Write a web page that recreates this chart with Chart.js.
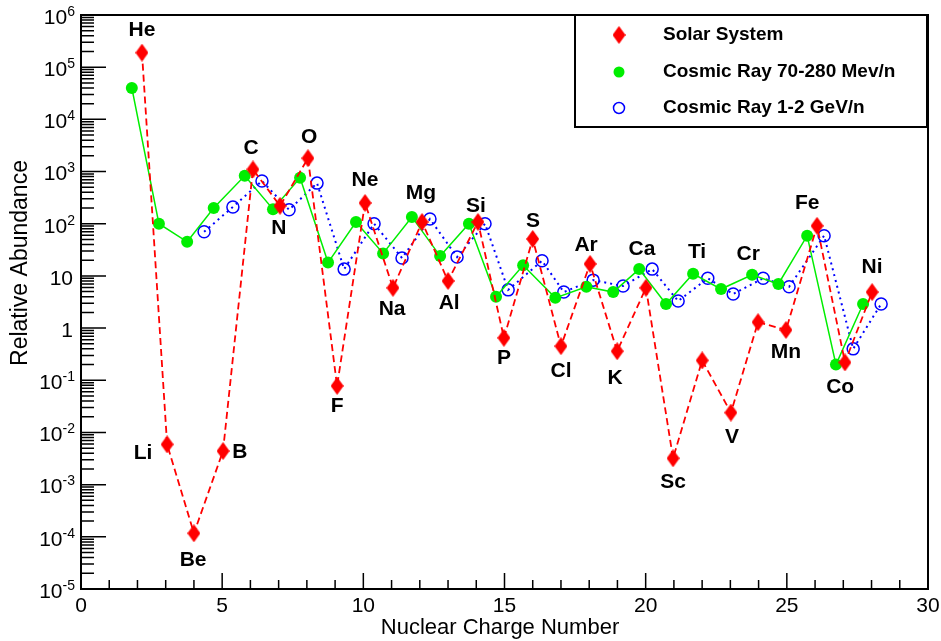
<!DOCTYPE html>
<html>
<head>
<meta charset="utf-8">
<script src="https://cdn.jsdelivr.net/npm/chart.js@4"></script>
<style>
  body { margin: 0; background: #fff; }
  #wrap { width: 941px; height: 641px; }
</style>
</head>
<body>
<div id="wrap"><canvas id="abundance" width="941" height="641"></canvas></div>
<script>
// element symbols, He .. Ni
const elements = ['He','Li','Be','B','C','N','O','F','Ne','Na','Mg','Al','Si','P','S','Cl','Ar','K','Ca','Sc','Ti','V','Cr','Mn','Fe','Co','Ni'];

// Solar System (red diamonds)
const solarX = [2.16,3.05,4.0,5.03,6.09,7.05,8.04,9.07,10.06,11.05,12.08,13.0,14.06,14.98,16.0,17.0,18.03,18.99,20.01,20.97,22.0,23.02,23.98,24.97,26.07,27.06,28.02];
const solarY = [1.9e5,5.9e-3,1.17e-4,4.4e-3,1.1e3,220,1.8e3,0.078,250,5.9,108,8.0,108,0.65,51,0.45,17,0.36,5.9,3.2e-3,0.24,0.024,1.3,0.92,91,0.22,4.9];

// Cosmic Ray 70-280 MeV/n (green dots)
const lowX = [1.8,2.76,3.76,4.7,5.8,6.8,7.76,8.75,9.74,10.7,11.72,12.72,13.74,14.7,15.66,16.8,17.9,18.85,19.77,20.72,21.68,22.67,23.77,24.7,25.72,26.74,27.7];
const lowY = [4.0e4,100,45,200,830,190,760,18,108,27,135,24,100,4.0,16,3.8,6.2,4.9,13.5,2.9,11,5.6,10.5,7.0,59,0.2,2.9];

// Cosmic Ray 1-2 GeV/n (blue open circles), Be .. Ni
const highX = [4.36,5.38,6.41,7.37,8.36,9.32,10.38,11.37,12.36,13.32,14.31,15.13,16.33,17.1,18.14,19.2,20.23,21.15,22.2,23.1,24.16,25.08,26.32,27.35,28.34];
const highY = [70,210,660,185,600,13.5,100,22,123,23,100,5.4,19.5,4.9,8.3,6.4,13.5,3.3,9,4.5,9,6.2,59,0.4,2.9];

// where each element name sits (data coordinates)
const labelX = [2.16,2.2,3.97,5.63,6.02,7.01,8.08,9.07,10.06,11.02,12.04,13.04,13.99,14.98,16.01,17.0,17.89,18.92,19.87,20.97,21.82,23.06,23.63,24.97,25.72,26.89,28.02];
const labelY = [5.2e5,4.0e-3,3.5e-5,4.2e-3,2.8e3,83,4.5e3,0.032,690,2.3,390,3.0,220,0.26,112,0.15,39,0.11,33,1.1e-3,28,8.1e-3,26,0.35,250,0.074,15];

const xTicks = [0,5,10,15,20,25,30];
const yExponents = [-5,-4,-3,-2,-1,0,1,2,3,4,5,6];
const legendNames = ['Solar System','Cosmic Ray 70-280 Mev/n','Cosmic Ray 1-2 GeV/n'];

const FONT = '"Liberation Sans", Arial, sans-serif';

function toPoints(xs, ys) {
    return xs.map((x, i) => ({ x: x, y: ys[i] }));
}

// taller-than-wide diamond like the ROOT marker
function makeDiamond(w, h) {
    const c = document.createElement('canvas');
    c.width = w; c.height = h;
    const g = c.getContext('2d');
    g.fillStyle = '#ff0000';
    g.beginPath();
    g.moveTo(w / 2, 0);
    g.lineTo(w, h / 2);
    g.lineTo(w / 2, h);
    g.lineTo(0, h / 2);
    g.closePath();
    g.fill();
    return c;
}
const diamond = makeDiamond(13, 18);

// frame, inward ticks, tick labels, titles
const axesPlugin = {
    id: 'rootAxes',
    afterDraw(chart) {
        const { ctx, chartArea: a, scales: { x, y } } = chart;
        ctx.save();
        ctx.strokeStyle = '#000';
        ctx.lineWidth = 2;
        ctx.strokeRect(a.left, a.top, a.right - a.left, a.bottom - a.top);

        ctx.lineWidth = 1.5;
        ctx.beginPath();
        for (let v = 0; v <= 30; v++) {
            const px = x.getPixelForValue(v);
            const len = v % 5 === 0 ? 16 : 9;
            ctx.moveTo(px, a.bottom);
            ctx.lineTo(px, a.bottom - len);
        }
        for (let e = -5; e <= 6; e++) {
            for (let m = 1; m <= 9; m++) {
                if (e === 6 && m > 1) break;
                const py = y.getPixelForValue(m * Math.pow(10, e));
                const len = m === 1 ? 25 : 13;
                ctx.moveTo(a.left, py);
                ctx.lineTo(a.left + len, py);
            }
        }
        ctx.stroke();

        ctx.fillStyle = '#000';
        ctx.font = '21px ' + FONT;
        ctx.textAlign = 'center';
        ctx.textBaseline = 'middle';
        xTicks.forEach(v => ctx.fillText(String(v), x.getPixelForValue(v), 606));

        const rightEdge = 75;
        yExponents.forEach(e => {
            const py = y.getPixelForValue(Math.pow(10, e)) + 3;
            ctx.textBaseline = 'middle';
            if (e === 0 || e === 1) {
                ctx.font = '21px ' + FONT;
                ctx.textAlign = 'right';
                ctx.fillText(e === 0 ? '1' : '10', rightEdge - 2, py);
                return;
            }
            const sup = String(e);
            ctx.font = '14px ' + FONT;
            const sw = ctx.measureText(sup).width;
            ctx.textAlign = 'left';
            ctx.fillText(sup, rightEdge - sw, py - 6);
            ctx.font = '21px ' + FONT;
            ctx.textAlign = 'right';
            ctx.fillText('10', rightEdge - sw, py);
        });

        ctx.font = '22px ' + FONT;
        ctx.textAlign = 'center';
        ctx.fillText('Nuclear Charge Number', 500, 628);
        ctx.font = '23px ' + FONT;
        ctx.translate(21, 263);
        ctx.rotate(-Math.PI / 2);
        ctx.fillText('Relative Abundance', 0, 0);
        ctx.restore();
    }
};

// element names next to the solar points
const namesPlugin = {
    id: 'elementNames',
    afterDatasetsDraw(chart) {
        const { ctx, scales: { x, y } } = chart;
        ctx.save();
        ctx.fillStyle = '#000';
        ctx.font = 'bold 21px ' + FONT;
        ctx.textAlign = 'center';
        ctx.textBaseline = 'middle';
        elements.forEach((el, i) => {
            ctx.fillText(el, x.getPixelForValue(labelX[i]), y.getPixelForValue(labelY[i]));
        });
        ctx.restore();
    }
};

// boxed legend in the top right corner
const legendPlugin = {
    id: 'boxLegend',
    afterDraw(chart) {
        const ctx = chart.ctx;
        const bx = 575, by = 15, bw = 352, bh = 112;
        ctx.save();
        ctx.fillStyle = '#fff';
        ctx.fillRect(bx, by, bw, bh);
        ctx.strokeStyle = '#000';
        ctx.lineWidth = 2;
        ctx.strokeRect(bx, by, bw, bh);

        const rows = [35, 72, 108];
        const mx = 619;
        ctx.drawImage(diamond, mx - 6.5, rows[0] - 9);
        ctx.fillStyle = '#00ee00';
        ctx.beginPath();
        ctx.arc(mx, rows[1], 5.5, 0, Math.PI * 2);
        ctx.fill();
        ctx.strokeStyle = '#0000ff';
        ctx.lineWidth = 1.5;
        ctx.beginPath();
        ctx.arc(mx, rows[2], 5.5, 0, Math.PI * 2);
        ctx.stroke();

        ctx.fillStyle = '#000';
        ctx.font = 'bold 19px ' + FONT;
        ctx.textAlign = 'left';
        ctx.textBaseline = 'middle';
        legendNames.forEach((n, i) => ctx.fillText(n, 663, rows[i]));
        ctx.restore();
    }
};

new Chart(document.getElementById('abundance'), {
    type: 'line',
    data: {
        datasets: [
            {
                label: legendNames[0],
                data: toPoints(solarX, solarY),
                borderColor: '#ff0000',
                borderWidth: 1.8,
                borderDash: [7, 4],
                pointStyle: diamond,
                pointRadius: 9,
                fill: false,
                tension: 0,
                order: 1
            },
            {
                label: legendNames[1],
                data: toPoints(lowX, lowY),
                borderColor: '#00ee00',
                backgroundColor: '#00ee00',
                borderWidth: 1.5,
                pointStyle: 'circle',
                pointRadius: 6,
                pointBorderWidth: 0,
                fill: false,
                tension: 0,
                order: 2
            },
            {
                label: legendNames[2],
                data: toPoints(highX, highY),
                borderColor: '#0000ff',
                backgroundColor: 'rgba(0,0,0,0)',
                borderWidth: 2,
                borderDash: [2, 4],
                pointStyle: 'circle',
                pointRadius: 6,
                pointBorderWidth: 1.5,
                pointBorderColor: '#0000ff',
                pointBackgroundColor: 'rgba(0,0,0,0)',
                fill: false,
                tension: 0,
                order: 3
            }
        ]
    },
    options: {
        responsive: false,
        animation: false,
        events: [],
        layout: { padding: { left: 81, right: 13, top: 15, bottom: 52 } },
        plugins: {
            legend: { display: false },
            tooltip: { enabled: false }
        },
        scales: {
            x: { type: 'linear', min: 0, max: 30, display: false },
            y: { type: 'logarithmic', min: 1e-5, max: 1e6, display: false }
        }
    },
    plugins: [axesPlugin, namesPlugin, legendPlugin]
});
</script>
</body>
</html>
